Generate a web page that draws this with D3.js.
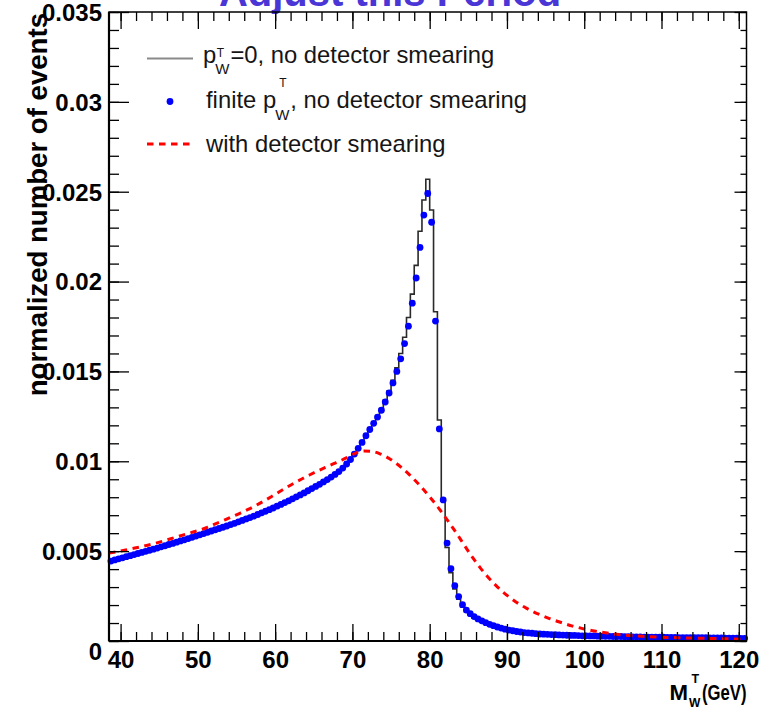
<!DOCTYPE html>
<html><head><meta charset="utf-8">
<script src="https://cdn.jsdelivr.net/npm/d3@7"></script>
<style>
html,body{margin:0;padding:0;background:#fff;}
svg{display:block;font-family:"Liberation Sans",Arial,Helvetica,sans-serif;}
</style></head><body>
<svg id="chart" width="761" height="708"></svg>
<script>
// ---------- data ----------
const xDomain = [38.5, 121];
const yDomain = [0, 0.035];
const binWidth = 0.5;
const binCenters = d3.range(38.75, 121, binWidth); // 165 bins of 0.5 GeV

// finite pT_W, no detector smearing (blue points)
const blueValues = [
 .00445,.00451,.00457,.00463,.00469,.00475,.00481,.00487,.00493,.00499,
 .00505,.00511,.00517,.00524,.00530,.00537,.00543,.00550,.00557,.00563,
 .00570,.00577,.00584,.00591,.00598,.00605,.00612,.00619,.00626,.00633,
 .00640,.00648,.00655,.00663,.00671,.00679,.00687,.00695,.00704,.00713,
 .00722,.00731,.00740,.00750,.00760,.00770,.00780,.00791,.00802,.00813,
 .00824,.00836,.00848,.00860,.00872,.00885,.00898,.00912,.00927,.00943,
 .00962,.00985,.01010,.01040,.01072,.01105,.01142,.01177,.01211,.01246,
 .01284,.01330,.01380,.01436,.01500,.01570,.01655,.01752,.01880,.02020,
 .02190,.02370,.02490,.02330,.01780,.01180,.00785,.00545,.00402,.00308,
 .00247,.00202,.00172,.00152,.00136,.00123,.00112,.00102,.00093,.00085,
 .00078,.00072,.00066,.00061,.00057,.00053,.00050,.00047,.00045,.00043,
 .00041,.00039,.00038,.00037,.00036,.00035,.00034,.00033,.00032,.00031,
 .00031,.00030,.00029,.00029,.00028,.00028,.00027,.00027,.00026,.00026,
 .00025,.00025,.00025,.00024,.00024,.00023,.00023,.00023,.00022,.00022,
 .00022,.00021,.00021,.00021,.00020,.00020,.00020,.00019,.00019,.00019,
 .00019,.00018,.00018,.00018,.00018,.00017,.00017,.00017,.00017,.00016,
 .00016,.00016,.00016,.00015,.00015
];

// pT_W = 0, no detector smearing (histogram)
const blackValues = [
 .00446,.00452,.00458,.00464,.00470,.00476,.00482,.00488,.00494,.00500,
 .00506,.00512,.00518,.00525,.00531,.00538,.00544,.00551,.00558,.00564,
 .00571,.00578,.00585,.00592,.00599,.00606,.00613,.00620,.00627,.00634,
 .00642,.00649,.00657,.00665,.00673,.00681,.00689,.00697,.00706,.00715,
 .00724,.00733,.00742,.00752,.00762,.00772,.00782,.00793,.00804,.00815,
 .00826,.00838,.00850,.00862,.00875,.00888,.00901,.00915,.00930,.00946,
 .00963,.00982,.01005,.01033,.01066,.01100,.01138,.01175,.01212,.01250,
 .01292,.01340,.01392,.01450,.01520,.01600,.01690,.01800,.01930,.02090,
 .02280,.02454,.02569,.02398,.01832,.01230,.00785,.00520,.00380,.00290,
 .00232,.00190,.00161,.00142,.00127,.00115,.00105,.00096,.00088,.00081,
 .00075,.00069,.00064,.00059,.00055,.00051,.00048,.00045,.00043,.00041,
 .00039,.00037,.00036,.00035,.00034,.00033,.00032,.00031,.00030,.00030,
 .00029,.00029,.00028,.00028,.00027,.00027,.00026,.00026,.00025,.00025,
 .00024,.00024,.00024,.00023,.00023,.00022,.00022,.00022,.00021,.00021,
 .00021,.00020,.00020,.00020,.00019,.00019,.00019,.00018,.00018,.00018,
 .00018,.00017,.00017,.00017,.00017,.00016,.00016,.00016,.00016,.00015,
 .00015,.00015,.00015,.00014,.00014
];

// with detector smearing (red dashed)
const redX = d3.range(38.5, 121, 1);
const redValues = [
 .00489,.00497,.00505,.00514,.00523,.00533,.00544,.00556,.00569,.00582,
 .00595,.00608,.00621,.00638,.00656,.00674,.00693,.00712,.00732,.00754,
 .00778,.00803,.00829,.00855,.00880,.00903,.00925,.00946,.00966,.00985,
 .01004,.01025,.01047,.01057,.01055,.01043,.01022,.00994,.00960,.00920,
 .00876,.00828,.00776,.00720,.00660,.00598,.00532,.00468,.00410,.00358,
 .00312,.00272,.00238,.00208,.00183,.00161,.00142,.00125,.00110,.00096,
 .00083,.00072,.00062,.00054,.00047,.00041,.00036,.00032,.00029,.00026,
 .00024,.00022,.00020,.00019,.00018,.00017,.00016,.00015,.00014,.00013,
 .00012,.00011,.00010
];

const xMajorTicks = [40, 50, 60, 70, 80, 90, 100, 110, 120];
const xTickLabels = ["40", "50", "60", "70", "80", "90", "100", "110", "120"];
const xMinorTicks = d3.range(40, 121, 2);
const yMajorTicks = [0, 0.005, 0.01, 0.015, 0.02, 0.025, 0.03, 0.035];
const yTickLabels = ["0", "0.005", "0.01", "0.015", "0.02", "0.025", "0.03", "0.035"];
const yMinorTicks = d3.range(0, 35.5, 1).map(d => d / 1000);

const yTitle = "normalized number of events";
const titleText = "Adjust this Period";

// ---------- layout ----------
const L = 109, R = 746.5, T = 12, B = 641;
const svg = d3.select("#chart");
const x = d3.scaleLinear().domain(xDomain).range([L, R]);
const y = d3.scaleLinear().domain(yDomain).range([B, T]);

// clipped purple title at very top
svg.append("text").attr("x", 390).attr("y", 6).attr("text-anchor", "middle")
  .attr("font-size", 40).attr("font-weight", "bold").attr("fill", "#4a35d6")
  .text(titleText);

// black histogram (step)
const nb = Math.min(binCenters.length, blackValues.length);
const histPts = [];
for (let i = 0; i < nb; i++) histPts.push([binCenters[i] - binWidth / 2, blackValues[i]]);
histPts.push([binCenters[nb - 1] + binWidth / 2, blackValues[nb - 1]]);
svg.append("path").attr("d", d3.line().x(d => x(d[0])).y(d => y(d[1])).curve(d3.curveStepAfter)(histPts))
  .attr("fill", "none").attr("stroke", "#2a2a2a").attr("stroke-width", 1.6);

// blue points
const nbl = Math.min(binCenters.length, blueValues.length);
svg.append("g").selectAll("circle").data(d3.range(nbl)).join("circle")
  .attr("cx", i => x(binCenters[i])).attr("cy", i => y(blueValues[i])).attr("r", 3.4)
  .attr("fill", "#0000ff");

// red dashed
const nr = Math.min(redX.length, redValues.length);
svg.append("path").attr("d", d3.line().x(i => x(redX[i])).y(i => y(redValues[i])).curve(d3.curveMonotoneX)(d3.range(nr)))
  .attr("fill", "none").attr("stroke", "#ff0000").attr("stroke-width", 3).attr("stroke-dasharray", "6.5,5.5");

// ---------- axes ----------
function styleAxis(g) {
  g.select(".domain").remove();
  g.selectAll("line").attr("stroke", "#000").attr("stroke-width", 1.3);
}
const fontAx = 24;
// bottom
svg.append("g").attr("transform", `translate(0,${B})`)
  .call(d3.axisBottom(x).tickValues(xMinorTicks).tickSizeInner(-9).tickSizeOuter(0).tickFormat(""))
  .call(styleAxis);
const gb = svg.append("g").attr("transform", `translate(0,${B})`)
  .call(d3.axisBottom(x).tickValues(xMajorTicks).tickSizeInner(-17).tickSizeOuter(0).tickPadding(10)
    .tickFormat((d, i) => xTickLabels[i]))
  .call(styleAxis);
gb.selectAll("text").attr("font-size", fontAx).attr("font-weight", "bold").attr("fill", "#000")
  .attr("font-family", '"Liberation Sans",Arial,sans-serif');
// top
svg.append("g").attr("transform", `translate(0,${T})`)
  .call(d3.axisTop(x).tickValues(xMinorTicks).tickSizeInner(-9).tickSizeOuter(0).tickFormat(""))
  .call(styleAxis);
svg.append("g").attr("transform", `translate(0,${T})`)
  .call(d3.axisTop(x).tickValues(xMajorTicks).tickSizeInner(-17).tickSizeOuter(0).tickFormat(""))
  .call(styleAxis);
// left
svg.append("g").attr("transform", `translate(${L},0)`)
  .call(d3.axisLeft(y).tickValues(yMinorTicks).tickSizeInner(-10).tickSizeOuter(0).tickFormat(""))
  .call(styleAxis);
const gl = svg.append("g").attr("transform", `translate(${L},0)`)
  .call(d3.axisLeft(y).tickValues(yMajorTicks).tickSizeInner(-20).tickSizeOuter(0).tickPadding(7)
    .tickFormat((d, i) => yTickLabels[i]))
  .call(styleAxis);
gl.selectAll("text").attr("font-size", fontAx).attr("font-weight", "bold").attr("fill", "#000")
  .attr("font-family", '"Liberation Sans",Arial,sans-serif')
  .attr("dy", d => d === 0 ? "0.75em" : "0.35em");
// right
svg.append("g").attr("transform", `translate(${R},0)`)
  .call(d3.axisRight(y).tickValues(yMinorTicks).tickSizeInner(-6).tickSizeOuter(0).tickFormat(""))
  .call(styleAxis);
svg.append("g").attr("transform", `translate(${R},0)`)
  .call(d3.axisRight(y).tickValues(yMajorTicks).tickSizeInner(-12).tickSizeOuter(0).tickFormat(""))
  .call(styleAxis);

// frame
svg.append("rect").attr("x", L).attr("y", T).attr("width", R - L).attr("height", B - T)
  .attr("fill", "none").attr("stroke", "#000").attr("stroke-width", 1.5);
svg.append("line").attr("x1", L).attr("x2", R).attr("y1", B).attr("y2", B).attr("stroke", "#000").attr("stroke-width", 2.2);
svg.append("line").attr("x1", L).attr("x2", L).attr("y1", T).attr("y2", B).attr("stroke", "#000").attr("stroke-width", 2.2);

// y title
svg.append("text").attr("transform", "translate(47,13) rotate(-90)").attr("text-anchor", "end")
  .attr("font-size", 27.6).attr("font-weight", "bold").attr("fill", "#000").text(yTitle);

// x title M_W^T (GeV)
const xt = svg.append("g").attr("font-weight", "bold").attr("fill", "#000");
xt.append("text").attr("x", 702).attr("y", 700).attr("font-size", 22)
  .attr("textLength", 44.5).attr("lengthAdjust", "spacingAndGlyphs").text("(GeV)");
xt.append("text").attr("x", 669.5).attr("y", 700).attr("font-size", 22)
  .attr("textLength", 18.5).attr("lengthAdjust", "spacingAndGlyphs").text("M");
xt.append("text").attr("x", 691.5).attr("y", 683).attr("font-size", 12.5).text("T");
xt.append("text").attr("x", 689).attr("y", 706.5).attr("font-size", 12).text("W");

// ---------- legend ----------
const legFS = 23.8;
const lg = svg.append("g").attr("fill", "#151515").attr("font-size", legFS);
function rich(x0, base, lead, supY, subY, supDx, subDx, rest) {
  const t0 = lg.append("text").attr("x", x0).attr("y", base).text(lead);
  const w0 = t0.node().getComputedTextLength();
  const sp = lg.append("text").attr("x", x0 + w0 + supDx).attr("y", supY).attr("font-size", 12).text("T");
  const sb = lg.append("text").attr("x", x0 + w0 + subDx).attr("y", subY).attr("font-size", 15).text("W");
  const end = Math.max(x0 + w0 + supDx + sp.node().getComputedTextLength(), x0 + w0 + subDx + sb.node().getComputedTextLength());
  lg.append("text").attr("x", end + 1).attr("y", base).text(rest);
}
rich(203, 63, "p", 57, 74, 0.5, -1, "=0, no detector smearing");
rich(206, 108, "finite p", 87, 120, 3, -1, ", no detector smearing");
lg.append("text").attr("x", 206).attr("y", 152).text("with detector smearing");
// legend markers
svg.append("line").attr("x1", 147).attr("x2", 193).attr("y1", 58.5).attr("y2", 58.5)
  .attr("stroke", "#8a8a8a").attr("stroke-width", 2.2);
svg.append("circle").attr("cx", 170).attr("cy", 101.5).attr("r", 3.4).attr("fill", "#0000ff");
svg.append("line").attr("x1", 147).attr("x2", 190).attr("y1", 144).attr("y2", 144)
  .attr("stroke", "#ff0000").attr("stroke-width", 3).attr("stroke-dasharray", "6.5,5.5");
</script>
</body></html>
